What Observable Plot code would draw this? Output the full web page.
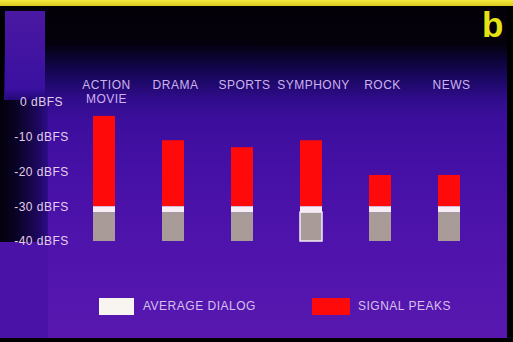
<!DOCTYPE html>
<html>
<head>
<meta charset="utf-8">
<script src="https://cdn.jsdelivr.net/npm/d3@7"></script>
<script src="https://cdn.jsdelivr.net/npm/@observablehq/plot@0.6"></script>
<style>
html,body{margin:0;padding:0;background:#000;}
#wrap{position:relative;width:513px;height:342px;overflow:hidden;background:#000;font-family:"Liberation Sans",Arial,sans-serif;}
.bg{position:absolute;}
#chart{position:absolute;left:0;top:0;}
#chart svg text{letter-spacing:0.5px;}
#legend{position:absolute;left:0;top:290px;width:513px;height:52px;}
.sw{position:absolute;top:8px;height:17px;}
.lt{position:absolute;top:9px;font-size:12px;line-height:14px;letter-spacing:0.5px;color:#d6c0ec;}
#badge{position:absolute;left:482px;top:5px;font:bold 35px "Liberation Sans",Arial,sans-serif;color:#e6e214;line-height:40px;}
</style>
</head>
<body>
<div id="wrap">
  <div class="bg" style="left:0;top:0;width:513px;height:6px;background:linear-gradient(#f6ea40,#d8c81c);"></div>
  <div class="bg" style="left:4px;top:7px;width:503px;height:331px;background:linear-gradient(to bottom,#030008 0%,#04010c 11%,#0c0438 16%,#1c0866 22%,#300c8c 28%,#3c0e9c 34%,#4610a6 50%,#5014ac 75%,#5818b0 100%);"></div>
  <div class="bg" style="left:5px;top:11px;width:40px;height:91px;background:linear-gradient(to bottom,#4a18a2,#3a10a0 85%,#200870);"></div>
  <div class="bg" style="left:0;top:100px;width:48px;height:142px;background:linear-gradient(to right,#04010c 0%,#0a0326 35%,#1e0860 80%,#2e0c88 100%);"></div>
  <div class="bg" style="left:0;top:242px;width:48px;height:96px;background:#4a12a6;"></div>
  <div id="chart"></div>
  <div id="legend"></div>
  <div id="badge">b</div>
</div>
<script>
// Data
const categories = ["ACTION\nMOVIE", "DRAMA", "SPORTS", "SYMPHONY", "ROCK", "NEWS"];
const signalPeaks = [-4, -11, -13, -11, -21, -21];     // dBFS
const averageDialog = [-30, -30, -30, -30, -30, -30];  // dBFS
const dialogFloor = [-40, -40, -40, -40, -40, -40];    // dBFS
const yTicks = [0, -10, -20, -30, -40];
const legendLabels = ["AVERAGE DIALOG", "SIGNAL PEAKS"];
const highlighted = ["SYMPHONY"];

const rows = categories.map((c, i) => ({
  cat: c, peak: signalPeaks[i], dialog: averageDialog[i], floor: dialogFloor[i]
}));
const capDepth = 1.7;

const plot = Plot.plot({
  width: 513,
  height: 290,
  marginTop: 102,
  marginBottom: 49,
  marginLeft: 46,
  marginRight: 5,
  style: {background: "transparent", fontFamily: "'Liberation Sans', Arial, sans-serif", overflow: "visible"},
  x: {type: "band", domain: categories, padding: 0.68, axis: null},
  y: {domain: [-40, 0], axis: null},
  marks: [
    Plot.barY(rows, {x: "cat", y1: "dialog", y2: "peak", fill: "#ff0a0a"}),
    Plot.barY(rows, {x: "cat", y1: "floor", y2: d => d.dialog - capDepth, fill: "#a99c98"}),
    Plot.barY(rows, {x: "cat", y1: d => d.dialog - capDepth, y2: "dialog", fill: "#f6eef4"}),
    Plot.barY(rows.filter(d => highlighted.includes(d.cat)), {x: "cat", y1: "floor", y2: d => d.dialog - capDepth, fill: "none", stroke: "#f2eaf6", strokeWidth: 1.5}),
    Plot.text(yTicks, {y: d => d, text: d => `${d} dBFS`, frameAnchor: "left", dx: -5, textAnchor: "middle", fill: "#e2d0e8", fontSize: 12}),
    Plot.text(rows, {x: "cat", text: "cat", frameAnchor: "top", dy: -23, dx: 2, fill: "#ceb2f0", fontSize: 12, lineHeight: 1.15})
  ]
});
document.getElementById("chart").appendChild(plot);

// Legend
const legend = document.getElementById("legend");
const legendColors = ["#f8f4f0", "#ff0a0a"];
const swatchLeft = [99, 312], swatchW = [35, 38], textLeft = [143, 358];
legendLabels.forEach((lab, i) => {
  const s = document.createElement("div");
  s.className = "sw";
  s.style.left = swatchLeft[i] + "px";
  s.style.width = swatchW[i] + "px";
  s.style.background = legendColors[i];
  legend.appendChild(s);
  const t = document.createElement("div");
  t.className = "lt";
  t.style.left = textLeft[i] + "px";
  t.textContent = lab;
  legend.appendChild(t);
});
</script>
</body>
</html>
